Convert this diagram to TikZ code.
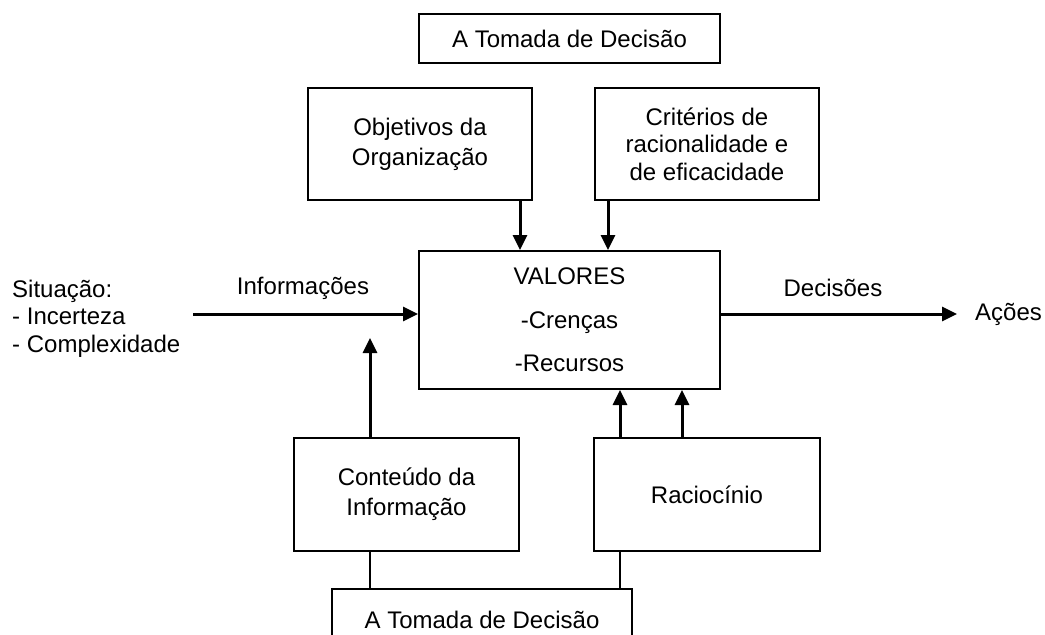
\documentclass[tikz,border=0pt]{standalone}
\usepackage{fontspec}
\setmainfont{Liberation Sans}
\usetikzlibrary{arrows.meta}
\begin{document}
\begin{tikzpicture}[x=1pt,y=-1pt,
  box/.style={draw,line width=2pt,inner sep=0pt,align=center,font=\fontsize{24}{27.5}\selectfont},
  wide/.style={font=\fontsize{24}{30}\selectfont},
  lbl/.style={inner sep=0pt,font=\fontsize{24}{27.5}\selectfont},
  arr/.style={line width=3pt,-{Triangle[length=15pt,width=14pt]}},
  conn/.style={line width=2pt}]
\useasboundingbox (0,0) rectangle (1045,635);
\clip (0,0) rectangle (1045,635);
% boxes
\node[box,minimum width=301pt,minimum height=49pt] (top) at (569.5,38.5) {A Tomada de Decisão};
\node[box,wide,minimum width=224pt,minimum height=112pt] (obj) at (420,144) {Objetivos da\\Organização};
\node[box,minimum width=224pt,minimum height=112pt] (crit) at (707,144) {Critérios de\\racionalidade e\\de eficacidade};
\node[box,minimum width=301pt,minimum height=138pt] (val) at (569.5,320) {VALORES\\[16pt]-Crenças\\[16pt]-Recursos};
\node[box,wide,minimum width=225pt,minimum height=113pt] (cont) at (406.5,494.5) {Conteúdo da\\Informação};
\node[box,minimum width=226pt,minimum height=113pt] (rac) at (707,494.5) {Raciocínio};
\node[box,minimum width=300pt,minimum height=61pt] (bot) at (482,619.5) {A Tomada de Decisão};
% labels
\node[lbl,anchor=west,align=left] (sit) at (12,318.5) {Situação:\\- Incerteza\\- Complexidade};
\node[lbl] (info) at (303,288) {Informações};
\node[lbl] (dec) at (833,288) {Decisões};
\node[lbl,anchor=west] (acoes) at (975,314) {Ações};
% helper coordinates
\coordinate (inS) at (193,314);
\coordinate (x1) at (520,0);
\coordinate (x2) at (608,0);
\coordinate (x3) at (370,0);
\coordinate (x4) at (620,0);
\coordinate (x5) at (682,0);
\coordinate (upEnd) at (370,338);
% arrows
\draw[arr] (inS) -- (inS -| val.west);
\draw[arr,shorten >=18pt] (val.east |- acoes) -- (acoes.west);
\draw[arr] (obj.south -| x1) -- (val.north -| x1);
\draw[arr] (crit.south -| x2) -- (val.north -| x2);
\draw[arr] (cont.north -| x3) -- (upEnd);
\draw[arr] (rac.north -| x4) -- (val.south -| x4);
\draw[arr] (rac.north -| x5) -- (val.south -| x5);
% plain connectors
\draw[conn] (cont.south -| x3) -- (bot.north -| x3);
\draw[conn] (rac.south -| x4) -- (bot.north -| x4);
\end{tikzpicture}
\end{document}
